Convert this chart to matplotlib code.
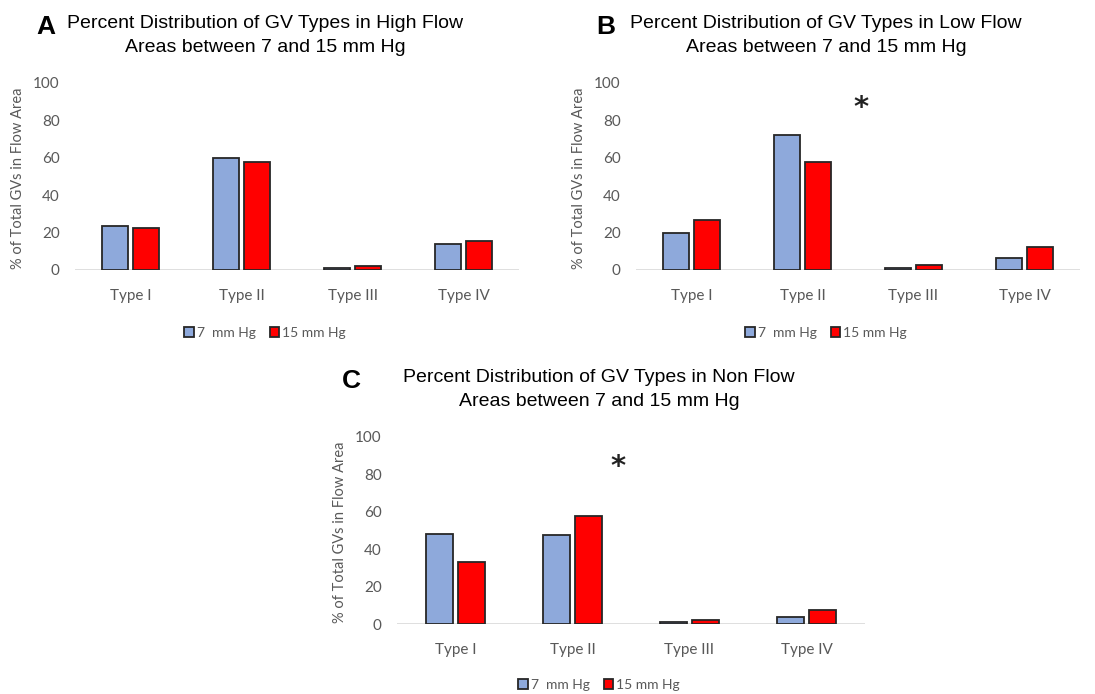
import matplotlib
matplotlib.use("Agg")
import matplotlib.pyplot as plt
import numpy as np

# categories and series
types = ["Type I", "Type II", "Type III", "Type IV"]
series_labels = ["7  mm Hg", "15 mm Hg"]

high_7 = [23.5, 59.7, 0.9, 13.9]
high_15 = [22.6, 57.6, 2.1, 15.7]

low_7 = [20.0, 72.4, 0.9, 6.6]
low_15 = [26.6, 57.6, 2.9, 12.5]

non_7 = [48.2, 47.5, 0.9, 3.8]
non_15 = [33.4, 58.0, 2.3, 7.7]

titles = [
    "Percent Distribution of GV Types in High Flow\nAreas between 7 and 15 mm Hg",
    "Percent Distribution of GV Types in Low Flow\nAreas between 7 and 15 mm Hg",
    "Percent Distribution of GV Types in Non Flow\nAreas between 7 and 15 mm Hg",
]
letters = ["A", "B", "C"]

BLUE = "#8EA9DB"
RED = "#FF0000"
EDGE = "#262626"
GRAY = "#595959"
TICK_FONT = ["Lato", "DejaVu Sans"]
TITLE_FONT = ["Liberation Sans", "DejaVu Sans"]

W, H = 1095, 694
fig = plt.figure(figsize=(W / 100, H / 100), dpi=100)
fig.patch.set_facecolor("white")


def px_axes(left, right, top, bottom):
    return fig.add_axes([left / W, 1 - bottom / H, (right - left) / W, (bottom - top) / H])


def draw_panel(ax, v7, v15, title, letter, star=None, title_y=(24, 47), letter_x=46, legend_y=333):
    x = np.arange(len(types))
    w = 0.23
    off = 0.14
    ax.bar(x - off, v7, w, color=BLUE, edgecolor=EDGE, linewidth=1.3, label=series_labels[0], zorder=3)
    ax.bar(x + off, v15, w, color=RED, edgecolor=EDGE, linewidth=1.3, label=series_labels[1], zorder=3)
    ax.axhline(0, color="#d9d9d9", linewidth=1.2, zorder=2)
    ax.set_xlim(-0.5, len(types) - 0.5)
    ax.set_ylim(0, 100)
    ax.set_yticks([0, 20, 40, 60, 80, 100])
    ax.set_xticks(x)
    ax.set_xticklabels(types)
    for s in ax.spines.values():
        s.set_visible(False)
    ax.tick_params(axis="both", length=0, colors=GRAY, labelsize=11)
    ax.tick_params(axis="y", pad=11)
    ax.tick_params(axis="x", pad=14)
    for lab in ax.get_xticklabels() + ax.get_yticklabels():
        lab.set_family(TICK_FONT)
    ax.set_ylabel("% of Total GVs in Flow Area", color=GRAY, fontsize=10.5, family=TICK_FONT)
    bb = ax.get_position()
    width_px = bb.width * W
    ax.yaxis.set_label_coords(-50 / width_px, 0.49)

    cx = (bb.x0 + bb.width / 2) - 32 / W
    fig.text(cx, 1 - title_y[0] / H, title.split("\n")[0], ha="center", va="center",
             fontsize=14, family=TITLE_FONT, color="black")
    fig.text(cx, 1 - title_y[1] / H, title.split("\n")[1], ha="center", va="center",
             fontsize=14, family=TITLE_FONT, color="black")
    fig.text(letter_x / W, 1 - (title_y[0] + 3) / H, letter, ha="center", va="center",
             fontsize=19, fontweight="heavy", family=TITLE_FONT, color="black")

    if star is not None:
        ax.text(star[0], star[1], "*", ha="center", va="center", fontsize=21,
                fontweight="bold", color="#222222")

    ax.legend(loc="center", bbox_to_anchor=(cx, 1 - legend_y / H), bbox_transform=fig.transFigure,
              ncol=2, frameon=False, handlelength=0.7, handleheight=0.7, handletextpad=0.2,
              columnspacing=1.0, prop={"family": TICK_FONT, "size": 10}, labelcolor=GRAY)


axA = px_axes(75, 519, 83, 270)
axB = px_axes(636, 1080, 83, 270)
axC = px_axes(397, 865, 437, 624)

draw_panel(axA, high_7, high_15, titles[0], letters[0], letter_x=46)
draw_panel(axB, low_7, low_15, titles[1], letters[1], star=(1.53, 86.5), letter_x=606)
draw_panel(axC, non_7, non_15, titles[2], letters[2], star=(1.39, 84), title_y=(378, 401),
           letter_x=351, legend_y=685)

fig.savefig("out.png", dpi=100, facecolor="white")
